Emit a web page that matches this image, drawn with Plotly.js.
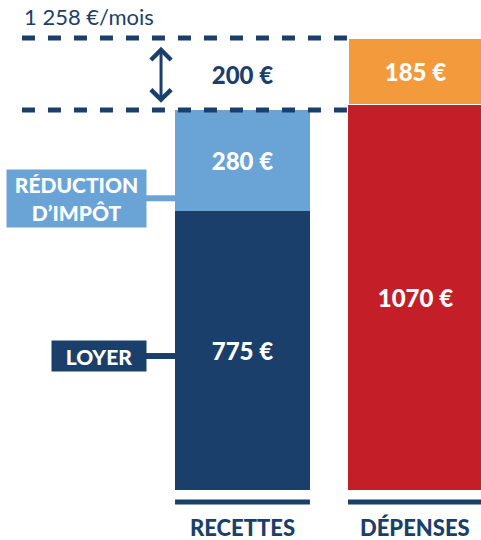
<!DOCTYPE html>
<html><head><meta charset="utf-8">
<script src="https://cdn.plot.ly/plotly-3.0.1.min.js"></script>
<style>html,body{margin:0;padding:0;background:#fff}#chart{width:481px;height:540px}</style>
</head><body><div id="chart"></div>
<script>
// Data
const categories = [0, 1];               // 0 = RECETTES, 1 = DÉPENSES
const categoryLabels = ['RECETTES', 'DÉPENSES'];
const loyer = [775, null];
const reductionImpot = [280, null];
const ecart = [200, null];
const depensesBase = [null, 1070];
const depensesHaut = [null, 185];
const totalLabel = '1 258 €/mois';
const totalValue = 1255;        // top of stacks
const recettesValue = 1055;     // loyer + réduction

const NAVY = '#1b3f6b', LIGHT = '#6aa4d7', RED = '#c41f28', ORANGE = '#f29a3c';
const FONT = 'Lato, "Open Sans", sans-serif';
const W = 0.78;

function barTrace(y, color, txtColor, extra) {
  return Object.assign({
    type: 'bar', x: categories, y: y, width: W,
    marker: {color: color, line: {width: 0}},
    texttemplate: '%{y:.0f} €', textposition: 'inside', insidetextanchor: 'middle',
    textangle: 0, constraintext: 'none',
    textfont: {family: FONT, size: 24, color: txtColor, weight: 900},
    hoverinfo: 'skip', showlegend: false
  }, extra || {});
}

const data = [
  barTrace(loyer, NAVY, '#fff'),
  barTrace(reductionImpot, LIGHT, '#fff'),
  barTrace(ecart, 'rgba(0,0,0,0)', NAVY),
  barTrace(depensesBase, RED, '#fff'),
  barTrace(depensesHaut, ORANGE, '#fff', {marker: {color: ORANGE, line: {color: '#fff', width: 1.5}}})
];

const dash = {color: NAVY, width: 5, dash: '13px,13px'};
const shapes = [
  {type: 'line', xref: 'x', yref: 'y', x0: -1.275, x1: 1 - W/2, y0: totalValue, y1: totalValue, line: dash, layer: 'above'},
  {type: 'line', xref: 'x', yref: 'y', x0: -1.275, x1: 1 - W/2, y0: recettesValue, y1: recettesValue, line: dash, layer: 'above'},
  {type: 'line', xref: 'x', yref: 'y', x0: -W/2, x1: W/2, y0: -33, y1: -33, line: {color: NAVY, width: 5}},
  {type: 'line', xref: 'x', yref: 'y', x0: 1 - W/2, x1: 1 + W/2, y0: -33, y1: -33, line: {color: NAVY, width: 5}},
  {type: 'line', xref: 'x', yref: 'y', x0: -0.56, x1: -W/2, y0: 810, y1: 810, line: {color: LIGHT, width: 6}, layer: 'below'},
  {type: 'line', xref: 'x', yref: 'y', x0: -0.56, x1: -W/2, y0: 372, y1: 372, line: {color: NAVY, width: 6}, layer: 'below'}
];

const annotations = [
  {xref: 'x', yref: 'y', x: -1.275, y: totalValue, yshift: 22, xanchor: 'left', yanchor: 'middle',
   text: totalLabel, showarrow: false, font: {family: FONT, size: 22, color: NAVY}},
  {xref: 'x', yref: 'y', x: -0.471, y: recettesValue + 20, ax: -0.471, ay: totalValue - 20,
   axref: 'x', ayref: 'y', text: '', showarrow: true, arrowside: 'end+start', arrowhead: 4,
   arrowsize: 1.3, arrowwidth: 3, arrowcolor: NAVY},
  {xref: 'x', yref: 'y', x: -0.552, y: 810, xanchor: 'right', yanchor: 'middle',
   text: 'RÉDUCTION<br>D’IMPÔT', showarrow: false, bgcolor: LIGHT, borderpad: 4, width: 131, height: 49,
   font: {family: FONT, size: 21, color: '#fff', weight: 900}},
  {xref: 'x', yref: 'y', x: -0.552, y: 372, xanchor: 'right', yanchor: 'middle',
   text: 'LOYER', showarrow: false, bgcolor: NAVY, borderpad: 4, width: 86, height: 22,
   font: {family: FONT, size: 21, color: '#fff', weight: 900}},
  {xref: 'x', yref: 'paper', x: categories[0], y: 0.024, yanchor: 'middle', text: categoryLabels[0],
   showarrow: false, font: {family: FONT, size: 22, color: NAVY, weight: 900}},
  {xref: 'x', yref: 'paper', x: categories[1], y: 0.024, yanchor: 'middle', text: categoryLabels[1],
   showarrow: false, font: {family: FONT, size: 22, color: NAVY, weight: 900}}
];

const layout = {
  width: 481, height: 540, margin: {l: 0, r: 0, t: 0, b: 0},
  paper_bgcolor: '#fff', plot_bgcolor: '#fff',
  barmode: 'stack', bargap: 0,
  xaxis: {range: [-1.402, 1.379], visible: false, fixedrange: true},
  yaxis: {range: [-138.8, 1360.5], visible: false, fixedrange: true},
  shapes: shapes, annotations: annotations, showlegend: false
};

Plotly.newPlot('chart', data, layout, {displayModeBar: false, staticPlot: true});
</script></body></html>
